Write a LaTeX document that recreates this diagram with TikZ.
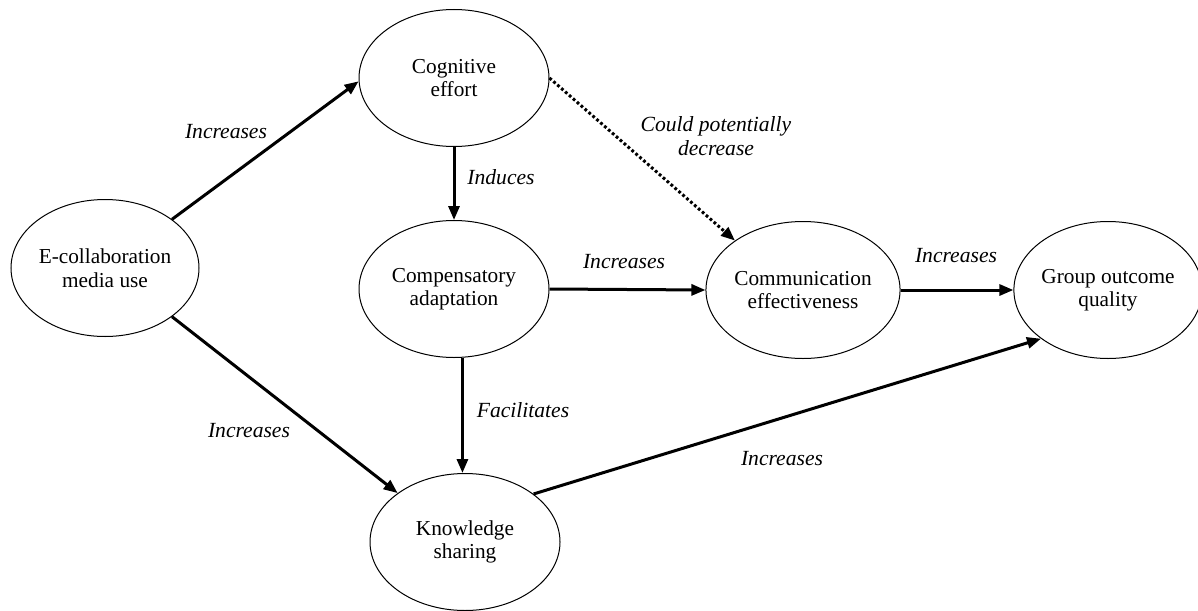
\documentclass[tikz,border=0pt]{standalone}
\usepackage{fontspec}
\setmainfont{Liberation Serif}
\usetikzlibrary{shapes.geometric,arrows.meta}
\begin{document}
\begin{tikzpicture}[x=1pt,y=-1pt,
  concept/.style={ellipse,draw,line width=1pt,minimum width=190pt,minimum height=137pt,inner sep=0pt,align=center,font=\fontsize{21.3}{23.5}\selectfont},
  lbl/.style={font=\fontsize{21.6}{23.5}\selectfont\itshape,inner sep=0pt,align=center},
  arr/.style={line width=3pt,-{Triangle[length=14pt,width=11pt]}},
  dotarr/.style={arr,dash pattern=on 2.8pt off 2.4pt}
]
\useasboundingbox[fill=white] (0,0) rectangle (1198,610);

\node[concept,minimum width=188pt] (E) at (105,268) {E-collaboration\\media use};
\node[concept] (C) at (454,78) {Cognitive\\effort};
\node[concept] (A) at (454,289) {Compensatory\\adaptation};
\node[concept] (M) at (803,290) {Communication\\effectiveness};
\node[concept,minimum width=186pt] (G) at (1108,290) {Group outcome\\quality};
\node[concept] (K) at (465,542) {Knowledge\\sharing};

\draw[arr] (E.36) -- (C.182);
\draw[arr] (E.-36) -- (K.144);
\draw[arr] (C.south) -- (A.north);
\draw[dotarr] (C.0) -- (M.144);
\draw[arr] (A.east) -- (M.west);
\draw[arr] (M.east) -- (G.west);
\draw[arr] (A.-83) -- (A.-83 |- K.north);
\draw[arr] (K.35) -- (G.216);

\node[lbl] (l1) at (226,132) {Increases};
\node[lbl] (l2) at (249,431) {Increases};
\node[lbl] (l3) at (501,177) {Induces};
\node[lbl] (l4) at (523,410) {Facilitates};
\node[lbl] (l5) at (624,262) {Increases};
\node[lbl] (l6) at (716,136) {Could potentially\\decrease};
\node[lbl] (l7) at (956,256) {Increases};
\node[lbl] (l8) at (782,459) {Increases};
\end{tikzpicture}
\end{document}
